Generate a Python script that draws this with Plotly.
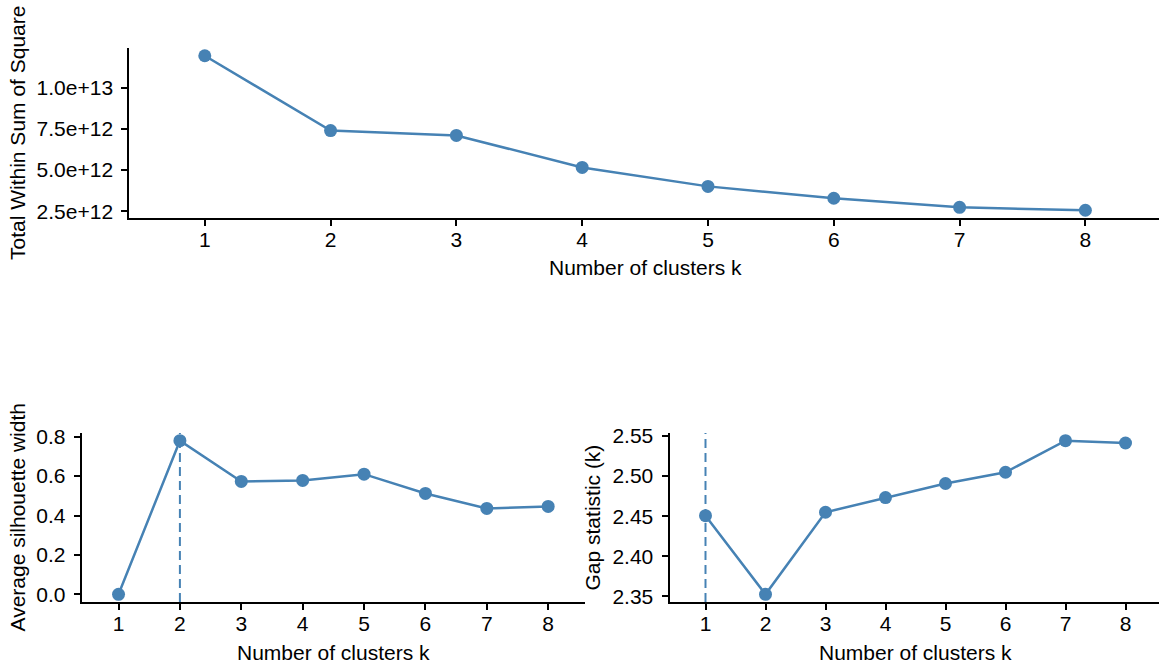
import plotly.graph_objects as go

# Cluster-count diagnostics: elbow (WSS), average silhouette width and gap statistic
k = [1, 2, 3, 4, 5, 6, 7, 8]
wss = [11.94e12, 7.40e12, 7.10e12, 5.16e12, 4.01e12, 3.29e12, 2.74e12, 2.56e12]
silhouette = [0.0, 0.780, 0.573, 0.578, 0.610, 0.512, 0.436, 0.446]
gap = [2.4506, 2.3525, 2.4549, 2.4732, 2.4908, 2.5048, 2.5442, 2.5413]

wss_tickvals = [2.5e12, 5.0e12, 7.5e12, 1.0e13]
wss_ticktext = ["2.5e+12", "5.0e+12", "7.5e+12", "1.0e+13"]
sil_tickvals = [0.0, 0.2, 0.4, 0.6, 0.8]
sil_ticktext = ["0.0", "0.2", "0.4", "0.6", "0.8"]
gap_tickvals = [2.35, 2.40, 2.45, 2.50, 2.55]
gap_ticktext = ["2.35", "2.40", "2.45", "2.50", "2.55"]

best_k_silhouette = 2
best_k_gap = 1

W, H = 1159, 668
COLOR = "#4682B4"
FONT = "Liberation Sans, Arial, sans-serif"
FS = 21


def px_x(p):
    return p / W


def px_y(p):
    return 1 - p / H


def padded(values, frac=0.05):
    lo, hi = min(values), max(values)
    pad = (hi - lo) * frac
    return [lo - pad, hi + pad]


axis_style = dict(
    showline=True, linecolor="black", linewidth=2,
    ticks="outside", ticklen=6, tickwidth=2, tickcolor="black",
    showgrid=False, zeroline=False, automargin=False,
    tickfont=dict(family=FONT, size=FS, color="black"),
)
x_style = dict(axis_style, ticklabelstandoff=-4)
y_style = dict(axis_style, ticklabelstandoff=4)

fig = go.Figure()

line_kw = dict(mode="lines+markers", line=dict(color=COLOR, width=2.5),
               marker=dict(color=COLOR, size=13), showlegend=False,
               hoverinfo="x+y", cliponaxis=False)

fig.add_trace(go.Scatter(x=k, y=wss, xaxis="x", yaxis="y", **line_kw))
fig.add_trace(go.Scatter(x=k, y=silhouette, xaxis="x2", yaxis="y2", **line_kw))
fig.add_trace(go.Scatter(x=k, y=gap, xaxis="x3", yaxis="y3", **line_kw))

# panel geometry in pixels
top_x0, top_px_per_k = 129.3, 125.8
bl_x0, bl_x1 = 81.7, 585.0
br_x0, br_px_per_k = 669.5, 60.0
top_y0, top_y1 = 48.0, 218.0
bot_y0, bot_y1 = 433.0, 602.0

sil_range = padded(silhouette)
gap_range = padded(gap)

fig.update_layout(
    width=W, height=H,
    margin=dict(l=0, r=0, t=0, b=0, pad=0, autoexpand=False),
    showlegend=False,
    paper_bgcolor="white", plot_bgcolor="white",
    font=dict(family=FONT, size=FS, color="black"),
    xaxis=dict(domain=[px_x(top_x0), 1.0], anchor="y",
               range=[0.4, 0.4 + (W - top_x0) / top_px_per_k],
               tickvals=k, ticktext=[str(v) for v in k], **x_style),
    yaxis=dict(domain=[px_y(top_y1), px_y(top_y0)], anchor="x",
               range=padded(wss), tickvals=wss_tickvals,
               ticktext=wss_ticktext, **y_style),
    xaxis2=dict(domain=[px_x(bl_x0), px_x(bl_x1)], anchor="y2",
                range=[0.4, 8.6], tickvals=k,
                ticktext=[str(v) for v in k], **x_style),
    yaxis2=dict(domain=[px_y(bot_y1), px_y(bot_y0)], anchor="x2",
                range=sil_range, tickvals=sil_tickvals,
                ticktext=sil_ticktext, **y_style),
    xaxis3=dict(domain=[px_x(br_x0), 1.0], anchor="y3",
                range=[0.4, 0.4 + (W - br_x0) / br_px_per_k], tickvals=k,
                ticktext=[str(v) for v in k], **x_style),
    yaxis3=dict(domain=[px_y(bot_y1), px_y(bot_y0)], anchor="x3",
                range=gap_range, tickvals=gap_tickvals,
                ticktext=gap_ticktext, **y_style),
)

# optimal-k markers
dash_kw = dict(type="line", line=dict(color=COLOR, width=2, dash="9px,5px"),
               layer="below")
fig.add_shape(x0=best_k_silhouette, x1=best_k_silhouette, xref="x2",
              y0=0, y1=1, yref="y2 domain", **dash_kw)
fig.add_shape(x0=best_k_gap, x1=best_k_gap, xref="x3",
              y0=0, y1=1, yref="y3 domain", **dash_kw)

# axis titles
titles = [
    ("Number of clusters k", (top_x0 + W) / 2 + 1, 268, 0),
    ("Number of clusters k", (bl_x0 + bl_x1) / 2, 652, 0),
    ("Number of clusters k", (br_x0 + 1161) / 2, 652, 0),
    ("Total Within Sum of Square", 17, (top_y0 + top_y1) / 2, -90),
    ("Average silhouette width", 17, (bot_y0 + bot_y1) / 2, -90),
    ("Gap statistic (k)", 592, (bot_y0 + bot_y1) / 2, -90),
]
for text, x, y, ang in titles:
    fig.add_annotation(text=text, x=px_x(x), y=px_y(y), xref="paper",
                       yref="paper", xanchor="center", yanchor="middle",
                       showarrow=False, textangle=ang,
                       font=dict(family=FONT, size=FS, color="black"))

fig.write_html("out.html")
